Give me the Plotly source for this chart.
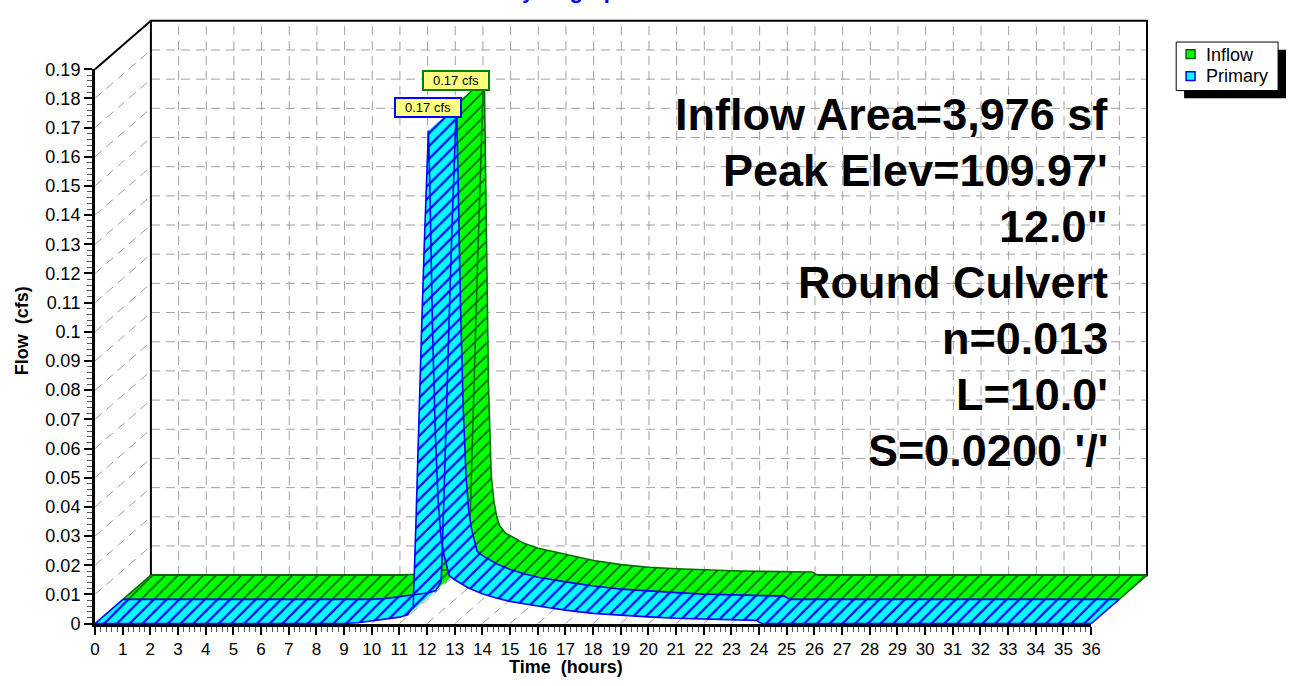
import plotly.graph_objects as go

# ---------------- data ----------------
time_h = [0, 9.0, 9.5, 10.0, 10.5, 11.0, 11.3, 11.5, 11.6, 11.7, 11.8, 11.9, 12.0, 12.05,
          12.1, 12.2, 12.3, 12.4, 12.5, 12.6, 12.8, 13.0, 13.5, 14.0, 14.5, 15.0, 16.0,
          17.0, 18.0, 19.0, 20.0, 21.0, 22.0, 23.0, 23.9, 24.0, 24.1, 36.0]
inflow_cfs = [0, 0, 0.0003, 0.0009, 0.0015, 0.0022, 0.0030, 0.0070, 0.040, 0.075, 0.105, 0.135,
              0.165, 0.170, 0.130, 0.065, 0.034, 0.025, 0.020, 0.017, 0.0145, 0.0135, 0.0108,
              0.0092, 0.0081, 0.0070, 0.0050, 0.0036, 0.0027, 0.0022, 0.0018, 0.0015, 0.0013,
              0.0011, 0.0011, 0.0005, 0, 0]
primary_cfs = [0, 0, 0.0003, 0.0009, 0.0015, 0.0022, 0.0030, 0.0060, 0.035, 0.070, 0.100, 0.130,
               0.160, 0.169, 0.150, 0.100, 0.065, 0.042, 0.030, 0.024, 0.0165, 0.0150, 0.0122,
               0.0102, 0.0088, 0.0076, 0.0060, 0.0046, 0.0035, 0.0028, 0.0023, 0.0018, 0.0015,
               0.0013, 0.0011, 0.0005, 0, 0]

series_names = ["Inflow", "Primary"]

x_ticks = list(range(0, 37))
x_tick_labels = [str(v) for v in x_ticks]
flow_ticks = [0, 0.01, 0.02, 0.03, 0.04, 0.05, 0.06, 0.07, 0.08, 0.09, 0.1,
              0.11, 0.12, 0.13, 0.14, 0.15, 0.16, 0.17, 0.18, 0.19]
flow_tick_labels = ["0", "0.01", "0.02", "0.03", "0.04", "0.05", "0.06", "0.07", "0.08", "0.09",
                    "0.1", "0.11", "0.12", "0.13", "0.14", "0.15", "0.16", "0.17", "0.18", "0.19"]

info_lines = ["Inflow Area=3,976 sf", "Peak Elev=109.97'", '12.0"', "Round Culvert",
              "n=0.013", "L=10.0'", "S=0.0200 '/'"]

# ---------------- geometry ----------------
W, H = 1294, 686
X0_PX, XEND_PX = 91, 1098      # front x-axis: 0 h .. 36 h
Y0_PX, YTOP_PX = 632, 61       # front y-axis: 0 .. 0.19 cfs
T_MAX, Q_MAX = 36.0, 0.19
SX = (XEND_PX - X0_PX) / T_MAX
SY = (Y0_PX - YTOP_PX) / Q_MAX
DX, DY = 1.01, 0.0083           # depth offset of one series ribbon (data units)

FONT = "Liberation Sans, Arial, sans-serif"

x2_range = [(0 - X0_PX) / SX, (W - X0_PX) / SX]
y2_range = [-(H - Y0_PX) / SY, Y0_PX / SY]


def px(xp):
    return xp / W


def py(yp):
    return 1 - yp / H


# ---------------- helpers ----------------
def ribbon_quads(t, q, k):
    xs, ys = [], []
    for i in range(len(t) - 1):
        f0 = (t[i] + k * DX, q[i] + k * DY)
        f1 = (t[i + 1] + k * DX, q[i + 1] + k * DY)
        b1 = (f1[0] + DX, f1[1] + DY)
        b0 = (f0[0] + DX, f0[1] + DY)
        pts = [f0, f1, b1, b0]
        area = 0
        for j in range(4):
            a, b = pts[j], pts[(j + 1) % 4]
            area += (a[0] * SX) * (b[1] * SY) - (b[0] * SX) * (a[1] * SY)
        if area < 0:
            pts = pts[::-1]
        for p in pts + [pts[0]]:
            xs.append(p[0])
            ys.append(p[1])
        xs.append(None)
        ys.append(None)
    return xs, ys


def ribbon_outline(t, q, k):
    xs, ys = [], []
    for kk in (k, k + 1):
        xs += [v + kk * DX for v in t] + [None]
        ys += [v + kk * DY for v in q] + [None]
    for i in (0, len(t) - 1):
        xs += [t[i] + k * DX, t[i] + (k + 1) * DX, None]
        ys += [q[i] + k * DY, q[i] + (k + 1) * DY, None]
    return xs, ys


fig = go.Figure()

# dummy trace on the front axes so that subplot exists
fig.add_trace(go.Scatter(x=[None], y=[None], xaxis="x", yaxis="y", showlegend=False,
                         hoverinfo="skip"))

# ---------------- box grid ----------------
gx, gy = [], []
bx0, bx1 = 2 * DX, T_MAX + 2 * DX
by0, by1 = 2 * DY, Q_MAX + 2 * DY
for v in flow_ticks[1:-1]:
    gx += [bx0, bx1, None]; gy += [v + 2 * DY, v + 2 * DY, None]      # back plane
    gx += [0, 2 * DX, None]; gy += [v, v + 2 * DY, None]                # side wall
for v in x_ticks[1:-1]:
    gx += [v + 2 * DX, v + 2 * DX, None]; gy += [by0, by1, None]      # back plane
for v in x_ticks[1:]:
    gx += [v, v + 2 * DX, None]; gy += [0, 2 * DY, None]                # floor
fig.add_trace(go.Scatter(x=gx, y=gy, mode="lines", xaxis="x2", yaxis="y2",
                         line=dict(color="#a0a0a0", width=1, dash="9px,6px"),
                         showlegend=False, hoverinfo="skip"))

fx = [bx0, bx0, bx1, bx1, bx0, None, 0, bx0]
fy = [by0, by1, by1, by0, by0, None, Q_MAX, by1]
fig.add_trace(go.Scatter(x=fx, y=fy, mode="lines", xaxis="x2", yaxis="y2",
                         line=dict(color="black", width=2),
                         showlegend=False, hoverinfo="skip"))

# ---------------- ribbons ----------------
styles = {
    "Inflow": dict(fill="#00ff00", hatch="#006000", line="#007000", depth=1, sol=0.18),
    "Primary": dict(fill="#00ffff", hatch="#0000ff", line="#0000ff", depth=0, sol=0.25),
}
series = {"Inflow": inflow_cfs, "Primary": primary_cfs}

for name in ["Inflow", "Primary"]:
    st = styles[name]
    q = series[name]
    qx, qy = ribbon_quads(time_h, q, st["depth"])
    fig.add_trace(go.Scatter(
        x=qx, y=qy, mode="lines", fill="toself", xaxis="x2", yaxis="y2",
        fillcolor=st["fill"], line=dict(width=0, color=st["fill"]),
        fillpattern=dict(shape="/", fgcolor=st["hatch"], bgcolor=st["fill"],
                         size=9, solidity=st["sol"], fillmode="replace"),
        name=name, showlegend=False, hoverinfo="skip"))
    ox, oy = ribbon_outline(time_h, q, st["depth"])
    fig.add_trace(go.Scatter(x=ox, y=oy, mode="lines", xaxis="x2", yaxis="y2",
                             line=dict(color=st["line"], width=1.6),
                             showlegend=False, hoverinfo="skip"))

# ---------------- annotations ----------------
ann = []
# peak labels
for name, bcol in [("Primary", "#0000ff"), ("Inflow", "#008000")]:
    q = series[name]
    k = styles[name]["depth"]
    ip = max(range(len(q)), key=lambda i: q[i])
    ann.append(dict(x=time_h[ip] + k * DX, y=q[ip] + k * DY, xref="x2", yref="y2",
                    text=f"{q[ip]:.2f} cfs", showarrow=False, yshift=23,
                    font=dict(family=FONT, size=13, color="black"),
                    bgcolor="#ffff80", bordercolor=bcol, borderwidth=2, borderpad=1,
                    width=62, height=15))

for i, line in enumerate(info_lines):
    ann.append(dict(x=px(1117), y=py(107.4 + 57.8 * i), xref="paper", yref="paper",
                    xanchor="right", yanchor="middle", text=line, showarrow=False,
                    font=dict(family=FONT, size=45, color="black", weight="bold")))

ann.append(dict(x=px(567), y=py(677), xref="paper", yref="paper", text="Time\u00a0 (hours)",
                showarrow=False, xanchor="center", yanchor="middle",
                font=dict(family=FONT, size=18, color="black", weight="bold")))
ann.append(dict(x=px(18), y=py(330), xref="paper", yref="paper", text="Flow\u00a0 (cfs)",
                showarrow=False, textangle=-90, xanchor="center", yanchor="middle",
                font=dict(family=FONT, size=18, color="black", weight="bold")))
ann.append(dict(x=px(570), y=py(-5.5), xref="paper", yref="paper", text="Hydrograph",
                showarrow=False, xanchor="center", yanchor="bottom",
                font=dict(family=FONT, size=22, color="#0000ff", weight="bold")))

# legend (drawn manually)
shapes = [
    dict(type="rect", xref="paper", yref="paper", x0=px(1192), x1=px(1295), y0=py(91), y1=py(41),
         fillcolor="black", line=dict(width=0)),
    dict(type="rect", xref="paper", yref="paper", x0=px(1184), x1=px(1287), y0=py(83), y1=py(33),
         fillcolor="white", line=dict(color="black", width=1)),
    dict(type="rect", xref="paper", yref="paper", x0=px(1194), x1=px(1203), y0=py(50), y1=py(41),
         fillcolor="#00ff00", line=dict(color="#006000", width=1.5)),
    dict(type="rect", xref="paper", yref="paper", x0=px(1194), x1=px(1203), y0=py(72.5), y1=py(63.5),
         fillcolor="#00ffff", line=dict(color="#0000ff", width=1.5)),
]
for name, yc in [("Inflow", 46), ("Primary", 68)]:
    ann.append(dict(x=px(1212), y=py(yc), xref="paper", yref="paper", text=name,
                    showarrow=False, xanchor="left", yanchor="middle",
                    font=dict(family=FONT, size=18, color="black")))

fig.update_layout(
    width=W, height=H, margin=dict(l=0, r=0, t=0, b=0),
    paper_bgcolor="white", plot_bgcolor="rgba(0,0,0,0)",
    showlegend=False, hovermode=False,
    annotations=ann, shapes=shapes,
    xaxis=dict(domain=[X0_PX / W, XEND_PX / W], range=[0, T_MAX], anchor="y",
               showline=True, linecolor="black", linewidth=3, mirror=False,
               ticks="outside", ticklen=8, tickwidth=1.5, tickcolor="black",
               tickmode="array", tickvals=x_ticks, ticktext=x_tick_labels,
               tickfont=dict(family=FONT, size=17, color="black"),
               minor=dict(tickmode="linear", tick0=0, dtick=0.2, ticks="outside",
                          ticklen=5, tickwidth=1, tickcolor="#555555", showgrid=False),
               showgrid=False, zeroline=False, fixedrange=True),
    yaxis=dict(domain=[1 - Y0_PX / H, 1 - YTOP_PX / H], range=[0, Q_MAX], anchor="x",
               showline=True, linecolor="black", linewidth=3, mirror=False,
               ticks="outside", ticklen=8, tickwidth=1.5, tickcolor="black",
               tickmode="array", tickvals=flow_ticks, ticktext=flow_tick_labels,
               tickfont=dict(family=FONT, size=18, color="black"),
               minor=dict(tickmode="linear", tick0=0, dtick=0.002, ticks="outside",
                          ticklen=5, tickwidth=1, tickcolor="#555555", showgrid=False),
               showgrid=False, zeroline=False, fixedrange=True),
    xaxis2=dict(domain=[0, 1], range=x2_range, anchor="y2", visible=False, fixedrange=True),
    yaxis2=dict(domain=[0, 1], range=y2_range, anchor="x2", visible=False, fixedrange=True),
)

fig.write_html("out.html", config={"displayModeBar": False},
               post_script="document.body.style.margin='0px';"
                           "document.body.style.overflow='hidden';")
